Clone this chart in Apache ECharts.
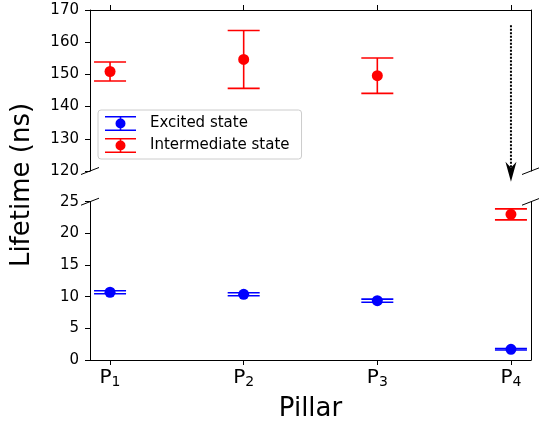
<!DOCTYPE html>
<html lang="en">
<head>
<meta charset="UTF-8">
<title>Lifetime per pillar</title>
<script src="https://cdn.jsdelivr.net/npm/echarts@6/dist/echarts.min.js"></script>
<style>
  body { margin: 0; background: #fff; }
  #main { width: 539px; height: 425px; }
</style>
</head>
<body>
<div id="main"></div>
<script>
  // values
  var pillars = ['P1', 'P2', 'P3', 'P4'];
  var excitedMean = [10.7, 10.38, 9.37, 1.69];
  var excitedErr = [0.24, 0.24, 0.24, 0.12];
  var interMean = [150.9, 154.65, 149.6, 23.0];
  var interErr = [2.95, 9.0, 5.5, 0.87];
  // broken y axis: upper and lower ranges
  var topRange = [120, 170];
  var topStep = 10;
  var bottomRange = [0, 25];
  var bottomStep = 5;
  // dotted arrow on P4, in upper-panel units
  var arrowFrom = [3, 165.3];
  var arrowTo = [3, 116.7];

  var FONT = 'DejaVu Sans';
  var RED = '#ff0000', BLUE = '#0000ff';
  var xPad = 0.15;
  var xMin = -xPad, xMax = pillars.length - 1 + xPad;
  var tickIdx = pillars.map(function (p, i) { return i; });

  var topInter = [], bottomInter = [], excited = [];
  pillars.forEach(function (p, i) {
    if (interMean[i] >= topRange[0]) topInter.push([i, interMean[i], interErr[i]]);
    else bottomInter.push([i, interMean[i], interErr[i]]);
    excited.push([i, excitedMean[i], excitedErr[i]]);
  });

  function errBar(color) {
    return function (params, api) {
      var x = api.value(0), m = api.value(1), e = api.value(2);
      var c = api.coord([x, m]);
      var hi = api.coord([x, m + e]);
      var lo = api.coord([x, m - e]);
      var hw = 16;
      var st = { stroke: color, lineWidth: 1.6, fill: null };
      return {
        type: 'group',
        children: [
          { type: 'line', shape: { x1: c[0], y1: hi[1], x2: c[0], y2: lo[1] }, style: st },
          { type: 'line', shape: { x1: c[0] - hw, y1: hi[1], x2: c[0] + hw, y2: hi[1] }, style: st },
          { type: 'line', shape: { x1: c[0] - hw, y1: lo[1], x2: c[0] + hw, y2: lo[1] }, style: st },
          { type: 'circle', shape: { cx: c[0], cy: c[1], r: 5.5 }, style: { fill: color } }
        ]
      };
    };
  }

  // errorbar legend glyph: caps, stem pieces and a dot
  var legendIcon = 'path://M0 0H31V1.6H0Z M0 13.4H31V15H0Z M14.7 1.6H16.3V2.6H14.7Z M14.7 12.4H16.3V13.4H14.7Z ' +
    'M10.5 7.5A5 5 0 1 1 20.5 7.5A5 5 0 1 1 10.5 7.5Z';

  var blackLine = { show: true, onZero: false, lineStyle: { color: '#000', width: 1 } };
  var tickStyle = { show: true, length: 5, lineStyle: { color: '#000', width: 1 } };

  function sideAxis(grid, range) {
    return {
      type: 'value', gridIndex: grid, position: 'right', min: range[0], max: range[1],
      axisLine: blackLine, axisTick: { show: false }, axisLabel: { show: false }, splitLine: { show: false }
    };
  }

  var myChart = echarts.init(document.getElementById('main'));
  var option = {
    animation: false,
    backgroundColor: '#fff',
    textStyle: { fontFamily: FONT },
    grid: [
      { left: 90, right: 8, top: 10, height: 161 },
      { left: 90, right: 8, top: 201.7, bottom: 65 }
    ],
    xAxis: [
      {
        type: 'value', gridIndex: 0, position: 'top', min: xMin, max: xMax,
        axisLine: blackLine,
        axisTick: Object.assign({ customValues: tickIdx }, tickStyle),
        axisLabel: { show: false },
        splitLine: { show: false }
      },
      {
        type: 'value', gridIndex: 1, position: 'bottom', min: xMin, max: xMax,
        axisLine: blackLine,
        axisTick: Object.assign({ customValues: tickIdx }, tickStyle),
        axisLabel: {
          customValues: tickIdx,
          margin: 8,
          color: '#000',
          formatter: function (v) {
            var n = pillars[Math.round(v)];
            return '{p|' + n.charAt(0) + '}{s|' + n.slice(1) + '}';
          },
          rich: {
            p: { fontSize: 20, fontFamily: FONT, color: '#000', padding: [0, 0, 1, 0] },
            s: { fontSize: 14, fontFamily: FONT, color: '#000', verticalAlign: 'bottom' }
          }
        },
        splitLine: { show: false },
        name: 'Pillar',
        nameLocation: 'middle',
        nameGap: 36,
        nameTextStyle: { fontSize: 26, fontFamily: FONT, color: '#000' }
      }
    ],
    yAxis: [
      {
        type: 'value', gridIndex: 0, min: topRange[0], max: topRange[1], interval: topStep,
        axisLine: blackLine, axisTick: tickStyle,
        axisLabel: { fontSize: 15, color: '#000', margin: 11 },
        splitLine: { show: false }
      },
      sideAxis(0, topRange),
      {
        type: 'value', gridIndex: 1, min: bottomRange[0], max: bottomRange[1], interval: bottomStep,
        axisLine: blackLine, axisTick: tickStyle,
        axisLabel: { fontSize: 15, color: '#000', margin: 11 },
        splitLine: { show: false }
      },
      sideAxis(1, bottomRange)
    ],
    legend: {
      orient: 'vertical',
      left: 98,
      top: 110,
      padding: [6, 12, 6, 7],
      itemWidth: 31,
      itemHeight: 16,
      itemGap: 7,
      backgroundColor: 'rgba(255,255,255,0.85)',
      borderColor: '#cccccc',
      borderWidth: 1,
      borderRadius: 3,
      z: 10,
      textStyle: { fontSize: 15, color: '#000', fontFamily: FONT, padding: [0, 0, 0, 9] },
      data: [
        { name: 'Excited state', icon: legendIcon, itemStyle: { color: BLUE, borderWidth: 0 } },
        { name: 'Intermediate state', icon: legendIcon, itemStyle: { color: RED, borderWidth: 0 } }
      ]
    },
    series: [
      {
        name: 'Excited state', type: 'custom', xAxisIndex: 1, yAxisIndex: 2,
        itemStyle: { color: BLUE }, renderItem: errBar(BLUE), data: excited
      },
      {
        name: 'Intermediate state', type: 'custom', xAxisIndex: 0, yAxisIndex: 0,
        itemStyle: { color: RED }, renderItem: errBar(RED), data: topInter
      },
      {
        name: 'Intermediate state', type: 'custom', xAxisIndex: 1, yAxisIndex: 2,
        itemStyle: { color: RED }, renderItem: errBar(RED), data: bottomInter
      }
    ]
  };
  myChart.setOption(option);

  // break marks, arrow and the shared y title
  function breakMark(pt) {
    return {
      type: 'line', silent: true, z: 20,
      shape: { x1: pt[0] - 9, y1: pt[1] + 3.5, x2: pt[0] + 9, y2: pt[1] - 3.5 },
      style: { stroke: '#000', lineWidth: 1 }
    };
  }
  var corners = [
    myChart.convertToPixel({ gridIndex: 0 }, [xMin, topRange[0]]),
    myChart.convertToPixel({ gridIndex: 0 }, [xMax, topRange[0]]),
    myChart.convertToPixel({ gridIndex: 1 }, [xMin, bottomRange[1]]),
    myChart.convertToPixel({ gridIndex: 1 }, [xMax, bottomRange[1]])
  ];
  var figTop = myChart.convertToPixel({ gridIndex: 0 }, [xMin, topRange[1]])[1];
  var figBottom = myChart.convertToPixel({ gridIndex: 1 }, [xMin, bottomRange[0]])[1];
  var a0 = myChart.convertToPixel({ gridIndex: 0 }, arrowFrom);
  var a1 = myChart.convertToPixel({ gridIndex: 0 }, arrowTo);
  var headLen = 20, headHalf = 5.5;

  var graphics = corners.map(breakMark);
  graphics.push({
    type: 'line', silent: true, z: 20,
    shape: { x1: a0[0], y1: a0[1], x2: a1[0], y2: a1[1] - 12 },
    style: { stroke: '#000', lineWidth: 2, lineDash: [2, 1.5] }
  });
  graphics.push({
    type: 'polygon', silent: true, z: 20,
    shape: {
      points: [
        [a1[0], a1[1]],
        [a1[0] - headHalf, a1[1] - headLen],
        [a1[0], a1[1] - headLen + 6],
        [a1[0] + headHalf, a1[1] - headLen]
      ]
    },
    style: { fill: '#000' }
  });
  graphics.push({
    type: 'text', silent: true,
    x: 22, y: (figTop + figBottom) / 2,
    rotation: Math.PI / 2,
    style: { text: 'Lifetime (ns)', fontSize: 26, fontFamily: FONT, fill: '#000', align: 'center', verticalAlign: 'middle' }
  });
  myChart.setOption({ graphic: graphics });
</script>
</body>
</html>
